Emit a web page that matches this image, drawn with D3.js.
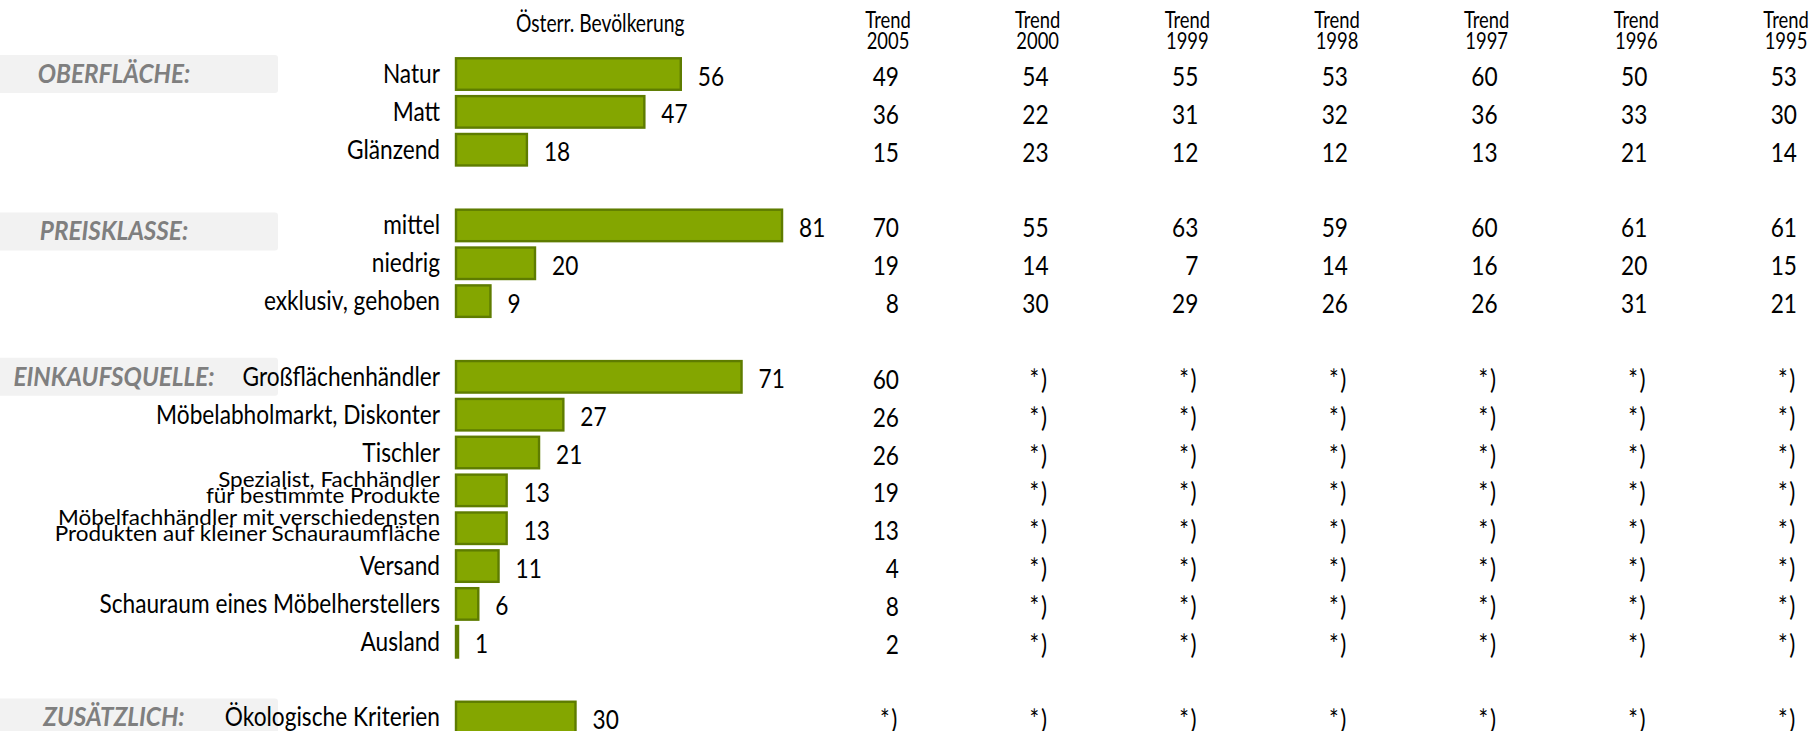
<!DOCTYPE html>
<html>
<head>
<meta charset="utf-8">
<script src="https://cdn.jsdelivr.net/npm/d3@7"></script>
<style>
  html, body { margin: 0; padding: 0; background: #ffffff; }
  svg { display: block; }
  text { font-family: Lato, "Open Sans", sans-serif; }
</style>
</head>
<body>
<svg id="chart" width="1816" height="731"></svg>
<script>
// Group headings and the row at which each group starts
const groupNames = ["OBERFLÄCHE:", "PREISKLASSE:", "EINKAUFSQUELLE:", "ZUSÄTZLICH:"];
const groupStartRows = [0, 4, 8, 17];

// Answer categories (multi-line labels split by "\n") and their row positions
const categories = [
  "Natur", "Matt", "Glänzend",
  "mittel", "niedrig", "exklusiv, gehoben",
  "Großflächenhändler", "Möbelabholmarkt, Diskonter", "Tischler",
  "Spezialist, Fachhändler\nfür bestimmte Produkte",
  "Möbelfachhändler mit verschiedensten\nProdukten auf kleiner Schauraumfläche",
  "Versand", "Schauraum eines Möbelherstellers", "Ausland",
  "Ökologische Kriterien"
];
const categoryRows = [0, 1, 2, 4, 5, 6, 8, 9, 10, 11, 12, 13, 14, 15, 17];

// Österreichische Bevölkerung, in %
const population = [56, 47, 18, 81, 20, 9, 71, 27, 21, 13, 13, 11, 6, 1, 30];

// Trend columns (null = not surveyed, shown as "*)")
const trendYears = ["2005", "2000", "1999", "1998", "1997", "1996", "1995"];
const trend2005 = [49, 36, 15, 70, 19, 8, 60, 26, 26, 19, 13, 4, 8, 2, null];
const trend2000 = [54, 22, 23, 55, 14, 30, null, null, null, null, null, null, null, null, null];
const trend1999 = [55, 31, 12, 63, 7, 29, null, null, null, null, null, null, null, null, null];
const trend1998 = [53, 32, 12, 59, 14, 26, null, null, null, null, null, null, null, null, null];
const trend1997 = [60, 36, 13, 60, 16, 26, null, null, null, null, null, null, null, null, null];
const trend1996 = [50, 33, 21, 61, 20, 31, null, null, null, null, null, null, null, null, null];
const trend1995 = [53, 30, 14, 61, 15, 21, null, null, null, null, null, null, null, null, null];
const trendSeries = [trend2005, trend2000, trend1999, trend1998, trend1997, trend1996, trend1995];

const populationHeader = "Österr. Bevölkerung";
const trendWord = "Trend";
const notSurveyed = "*)";

// ---- layout ----
const svg = d3.select("#chart");
const SX = 0.84;            // horizontal condensing of body text
const FS = 27;              // base font size

const y = d3.scaleBand()
  .domain(d3.range(18))
  .range([55.1, 736.4])
  .paddingInner(0.115)
  .paddingOuter(0.0575);
const rowMid = r => y(r) + y.bandwidth() / 2;

const x = d3.scaleLinear().domain([0, 100]).range([455, 860]);

const trendX = d3.scalePoint()
  .domain(trendYears)
  .range([899, 1797]);

function label(g, tx, ty, str, anchor, opts = {}) {
  const t = g.append("text")
    .attr("transform", `translate(${tx},${ty}) scale(${opts.sx || SX},1)`)
    .attr("text-anchor", anchor)
    .attr("font-size", opts.size || FS)
    .attr("font-weight", opts.weight || "normal")
    .attr("font-style", opts.style || "normal")
    .attr("fill", opts.fill || "#000")
    .text(str);
  if (opts.spacing) t.attr("letter-spacing", opts.spacing);
  return t;
}

// group heading boxes (the price block sits a little lower)
const headShift = { "PREISKLASSE:": 6 };
const heads = svg.append("g");
groupNames.forEach((name, i) => {
  const cy = rowMid(groupStartRows[i]) + (headShift[name] || 0);
  heads.append("rect")
    .attr("x", -6).attr("y", cy - 19)
    .attr("width", 284).attr("height", 38)
    .attr("rx", 3)
    .attr("fill", "#f2f2f2");
  label(heads, 114, cy + 9, name, "middle",
    { size: 27, sx: 0.9, weight: "bold", style: "italic", fill: "#7f7f7f" });
});

// column headers
const hdr = svg.append("g");
label(hdr, 516, 32, populationHeader, "start", { size: 25, sx: 0.77 });
trendYears.forEach(yr => {
  label(hdr, trendX(yr) - 11, 28, trendWord, "middle", { size: 23, sx: 0.8 });
  label(hdr, trendX(yr) - 11, 48.5, yr, "middle", { size: 23, sx: 0.8 });
});

// category labels
const cats = svg.append("g");
categories.forEach((c, i) => {
  const cy = rowMid(categoryRows[i]);
  const lines = c.split("\n");
  if (lines.length === 1) {
    label(cats, 440, cy + 9, lines[0], "end");
  } else {
    label(cats, 440, cy - 3, lines[0], "end", { size: 22, sx: 1.02 });
    label(cats, 440, cy + 12.5, lines[1], "end", { size: 22, sx: 1.02 });
  }
});

// bars
svg.append("g").selectAll("rect")
  .data(population)
  .join("rect")
  .attr("x", x(0) + 1)
  .attr("y", (d, i) => y(categoryRows[i]) + 1)
  .attr("width", d => Math.max(0, x(d) - x(0) - 2))
  .attr("height", y.bandwidth() - 2)
  .attr("fill", "#84a600")
  .attr("stroke", "#5e7c00")
  .attr("stroke-width", 2.4);

// bar value labels
const vals = svg.append("g");
population.forEach((v, i) => {
  label(vals, x(v) + 16, rowMid(categoryRows[i]) + 11.5, String(v), "start");
});

// trend table
const tbl = svg.append("g");
trendSeries.forEach((series, k) => {
  series.forEach((v, i) => {
    const missing = v == null;
    label(tbl, trendX(trendYears[k]), rowMid(categoryRows[i]) + 12,
      missing ? notSurveyed : String(v), "end",
      missing ? { spacing: 2 } : {});
  });
});
</script>
</body>
</html>
